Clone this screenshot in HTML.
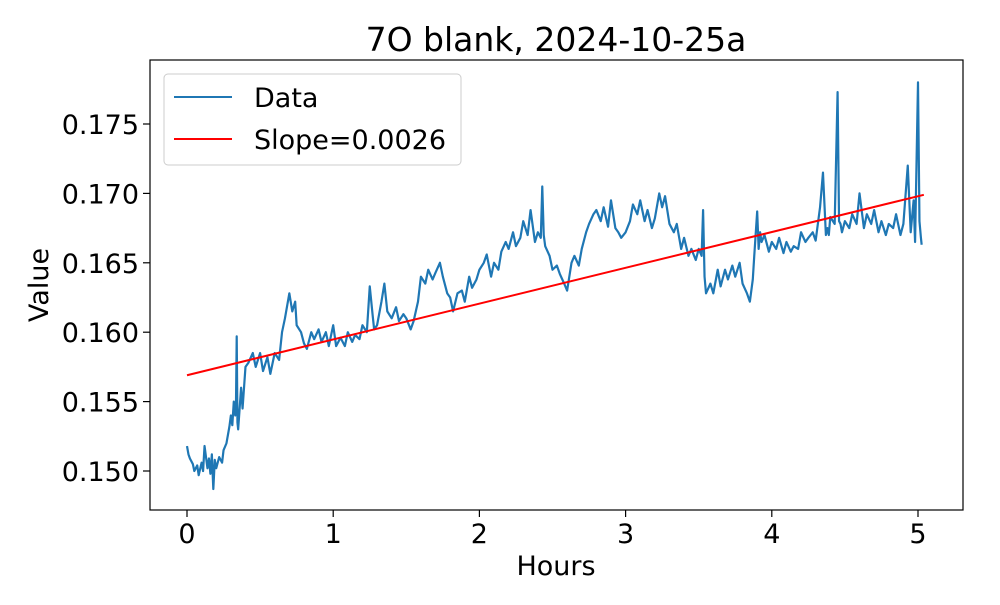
<!DOCTYPE html>
<html><head><meta charset="utf-8"><style>
body{margin:0;background:#fff;}
svg text{font-family:"DejaVu Sans","Liberation Sans",sans-serif;fill:#000;}
</style></head><body>
<svg width="1000" height="600" viewBox="0 0 1000 600">
<rect width="1000" height="600" fill="#fff"/>
<text x="556" y="51" font-size="33" text-anchor="middle">7O blank, 2024-10-25a</text>
<g id="plot"></g>
<rect x="150" y="60" width="813" height="450" fill="none" stroke="#000" stroke-width="1.2"/>
<text x="556" y="575" font-size="27" text-anchor="middle">Hours</text>
<text x="48" y="285" font-size="27" text-anchor="middle" transform="rotate(-90 48 285)">Value</text>
<g>
<rect x="164" y="74" width="297" height="91" rx="4" fill="#fff" fill-opacity="0.8" stroke="#ccc"/>
<line x1="174" y1="97" x2="232" y2="97" stroke="#1f77b4" stroke-width="2"/>
<text x="254" y="107" font-size="27">Data</text>
<line x1="174" y1="139" x2="232" y2="139" stroke="red" stroke-width="2"/>
<text x="254" y="149" font-size="27">Slope=0.0026</text>
</g>
</svg>
<script>
const hours=[0,0.01,0.02,0.04,0.05,0.07,0.08,0.1,0.11,0.12,0.14,0.15,0.16,0.17,0.18,0.19,0.2,0.22,0.24,0.25,0.27,0.29,0.3,0.31,0.32,0.33,0.335,0.34,0.345,0.35,0.37,0.38,0.4,0.42,0.45,0.47,0.5,0.52,0.55,0.57,0.6,0.63,0.65,0.67,0.7,0.72,0.74,0.75,0.78,0.8,0.82,0.85,0.87,0.9,0.92,0.95,0.97,1.0,1.02,1.05,1.08,1.1,1.13,1.15,1.18,1.2,1.23,1.25,1.27,1.28,1.3,1.33,1.35,1.37,1.4,1.43,1.45,1.48,1.5,1.53,1.55,1.58,1.6,1.63,1.65,1.68,1.7,1.73,1.75,1.78,1.8,1.82,1.85,1.88,1.9,1.93,1.95,1.98,2.0,2.03,2.05,2.08,2.1,2.13,2.15,2.18,2.2,2.23,2.25,2.28,2.3,2.33,2.35,2.38,2.4,2.42,2.43,2.44,2.45,2.48,2.5,2.53,2.55,2.58,2.6,2.63,2.65,2.68,2.7,2.73,2.75,2.78,2.8,2.83,2.85,2.88,2.9,2.93,2.95,2.97,3.0,3.03,3.05,3.08,3.1,3.13,3.15,3.18,3.2,3.23,3.25,3.27,3.3,3.33,3.35,3.38,3.4,3.43,3.45,3.48,3.5,3.52,3.53,3.54,3.55,3.58,3.6,3.63,3.65,3.68,3.7,3.73,3.75,3.78,3.8,3.83,3.85,3.87,3.88,3.9,3.91,3.92,3.93,3.95,3.98,4.0,4.03,4.05,4.08,4.1,4.13,4.15,4.18,4.2,4.23,4.25,4.28,4.3,4.33,4.35,4.37,4.38,4.39,4.4,4.43,4.45,4.46,4.47,4.48,4.5,4.53,4.55,4.58,4.6,4.63,4.65,4.68,4.7,4.73,4.75,4.78,4.8,4.83,4.85,4.88,4.9,4.93,4.95,4.97,4.98,5.0,5.01,5.02,5.025,5.03,5.04];
const values=[0.1518,0.1512,0.1509,0.1505,0.1500,0.1504,0.1497,0.1506,0.1500,0.1518,0.1502,0.1509,0.1498,0.1512,0.1487,0.1508,0.1502,0.1510,0.1506,0.1515,0.1520,0.1532,0.1540,0.1533,0.1550,0.1540,0.1548,0.1597,0.1535,0.1530,0.1560,0.1545,0.1575,0.1578,0.1585,0.1575,0.1585,0.1572,0.1582,0.1570,0.1585,0.1580,0.1600,0.1610,0.1628,0.1615,0.1622,0.1605,0.1600,0.1592,0.1588,0.1600,0.1595,0.1602,0.1593,0.1600,0.1590,0.1605,0.1590,0.1596,0.1590,0.1600,0.1593,0.1598,0.1595,0.1605,0.1600,0.1633,0.1612,0.1602,0.1605,0.1622,0.1635,0.1615,0.1610,0.1618,0.1608,0.1613,0.1610,0.1602,0.1608,0.1622,0.1640,0.1635,0.1645,0.1638,0.1643,0.1650,0.1640,0.1628,0.1625,0.1615,0.1628,0.1630,0.1622,0.1640,0.1632,0.1638,0.1645,0.1650,0.1656,0.1640,0.1650,0.1645,0.1658,0.1665,0.1660,0.1672,0.1662,0.1668,0.1680,0.1670,0.1688,0.1665,0.1672,0.1668,0.1705,0.1670,0.1662,0.1655,0.1645,0.1648,0.1642,0.1635,0.1630,0.1650,0.1655,0.1648,0.1660,0.1672,0.1678,0.1685,0.1688,0.1680,0.1690,0.1676,0.1695,0.1675,0.1672,0.1668,0.1672,0.1680,0.1692,0.1685,0.1695,0.1680,0.1688,0.1675,0.1682,0.1700,0.1690,0.1698,0.1678,0.1672,0.1678,0.1660,0.1668,0.1655,0.1660,0.1652,0.1660,0.1655,0.1688,0.1640,0.1628,0.1635,0.1628,0.1645,0.1633,0.1645,0.1638,0.1648,0.1640,0.1650,0.1635,0.1628,0.1622,0.1638,0.1655,0.1687,0.1660,0.1672,0.1665,0.1670,0.1658,0.1665,0.1660,0.1668,0.1657,0.1665,0.1658,0.1662,0.1660,0.1672,0.1665,0.1668,0.1672,0.1666,0.1690,0.1715,0.1670,0.1675,0.1670,0.1683,0.1678,0.1773,0.1680,0.1678,0.1672,0.1680,0.1675,0.1685,0.1678,0.1700,0.1675,0.1685,0.1678,0.1688,0.1672,0.1680,0.1670,0.1678,0.1675,0.1685,0.1670,0.1678,0.1720,0.1672,0.1695,0.1665,0.1780,0.1680,0.1668,0.1663];
const slopeX=[0,5.04];
const slopeY=[0.1569,0.1699];
const xTicks=[0,1,2,3,4,5];
const yTicks=[0.150,0.155,0.160,0.165,0.170,0.175];
const NS="http://www.w3.org/2000/svg";
const sx=h=>187+h*146.2;
const sy=v=>471-(v-0.150)*13880;
const g=document.getElementById('plot');
function mk(t,a){const e=document.createElementNS(NS,t);for(const k in a)e.setAttribute(k,a[k]);g.appendChild(e);return e;}
xTicks.forEach(t=>{
  const l=mk('line',{x1:sx(t),x2:sx(t),y1:510,y2:517,stroke:'#000','stroke-width':1.2});
  
  
  const tx=mk('text',{x:sx(t),y:543,'font-size':27,'text-anchor':'middle'});
  tx.textContent=t;
  
  
});
yTicks.forEach(t=>{
  const l=mk('line',{x1:143,x2:150,y1:sy(t),y2:sy(t),stroke:'#000','stroke-width':1.2});
  
  
  const tx=mk('text',{x:139,y:sy(t)+10,'font-size':27,'text-anchor':'end'});
  tx.textContent=t.toFixed(3);
  
  
});
const dp=mk('polyline',{points:hours.map((h,i)=>sx(h)+','+sy(values[i])).join(' '),fill:'none',stroke:'#1f77b4','stroke-width':2.2,'stroke-linejoin':'round'});


const sl=mk('line',{x1:sx(slopeX[0]),y1:sy(slopeY[0]),x2:sx(slopeX[1]),y2:sy(slopeY[1]),stroke:'red','stroke-width':2});


</script>
</body></html>
